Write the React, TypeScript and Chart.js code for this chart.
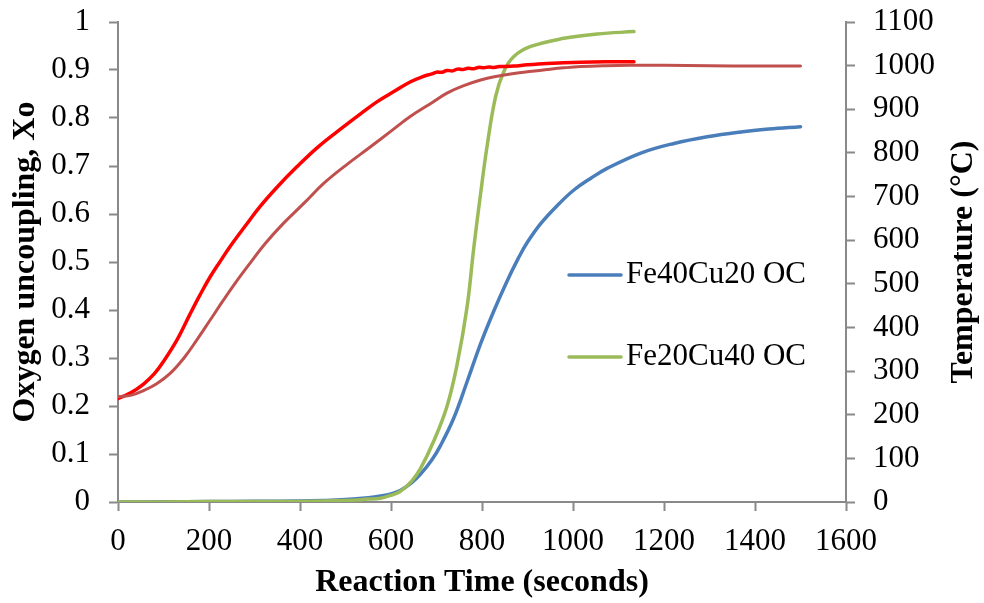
import React, { useEffect, useRef } from 'react';
import { Chart, registerables } from 'chart.js';

Chart.register(...registerables);

const FONT = '"Liberation Serif", "Times New Roman", Times, serif';

// X axis (Reaction Time, seconds)
const X_MIN = 0;
const X_MAX = 1600;
const X_STEP = 200;
// Left axis (Oxygen uncoupling, Xo)
const Y1_MIN = 0;
const Y1_MAX = 1;
const Y1_STEP = 0.1;
// Right axis (Temperature, °C)
const Y2_MIN = 0;
const Y2_MAX = 1100;
const Y2_STEP = 100;

const X_TITLE = 'Reaction Time (seconds)';
const Y1_TITLE = 'Oxygen uncoupling, Xo';
const Y2_TITLE = 'Temperature (°C)';

const LABEL_FE40 = 'Fe40Cu20 OC';
const LABEL_FE20 = 'Fe20Cu40 OC';

// Fe40Cu20 OC – oxygen uncoupling (blue)
const fe40Time = [0, 100, 200, 300, 400, 450, 500, 550, 577, 600, 620, 645, 665, 690, 709, 738, 767, 797, 826, 855, 880, 899, 929, 970, 1002, 1040, 1075, 1149, 1222, 1295, 1369, 1430, 1500];
const fe40Xo = [0, 0.0005, 0.001, 0.0015, 0.002, 0.003, 0.005, 0.009, 0.0125, 0.017, 0.024, 0.04, 0.058, 0.088, 0.118, 0.175, 0.25, 0.33, 0.398, 0.46, 0.508, 0.54, 0.58, 0.622, 0.65, 0.675, 0.695, 0.727, 0.747, 0.761, 0.771, 0.777, 0.782];

// Fe20Cu40 OC – oxygen uncoupling (green)
const fe20Time = [0, 100, 200, 300, 400, 500, 550, 577, 600, 620, 645, 665, 694, 723, 745, 767, 782, 797, 811, 830, 848, 870, 907, 980, 1053, 1134];
const fe20Xo = [0, 0, 0.001, 0.001, 0.001, 0.003, 0.006, 0.008, 0.014, 0.022, 0.043, 0.07, 0.127, 0.199, 0.285, 0.405, 0.53, 0.643, 0.74, 0.845, 0.897, 0.928, 0.949, 0.966, 0.975, 0.98];

// Temperature run 1 (red)
const tempRedTime = [0, 20, 40, 56, 80, 100, 130, 158, 180, 202, 225, 246, 280, 312, 350, 393, 440, 496, 530, 569, 610, 643, 670, 690, 700, 712, 723, 735, 746, 758, 769, 781, 792, 804, 815, 826, 838, 850, 870, 900, 943, 1017, 1080, 1134];
const tempRed = [237, 246, 258, 270, 294, 322, 372, 430, 474, 515, 552, 585, 633, 677, 722, 768, 814, 860, 887, 917, 943, 963, 975, 981, 985, 985, 989, 988, 992, 991, 994, 993, 996, 995, 997, 996, 998, 998, 999, 1002, 1005, 1008, 1009, 1009];

// Temperature run 2 (dark red)
const tempDarkTime = [0, 30, 56, 85, 114, 145, 173, 200, 232, 260, 290, 325, 364, 410, 452, 500, 555, 600, 643, 690, 723, 760, 797, 830, 870, 910, 943, 980, 1017, 1070, 1127, 1200, 1300, 1400, 1500];
const tempDark = [241, 245, 255, 271, 294, 330, 371, 413, 463, 505, 547, 594, 639, 686, 730, 771, 814, 850, 884, 915, 937, 954, 967, 975, 982, 987, 991, 995, 998, 1000, 1001, 1001, 1000, 999, 999];

const BLUE = '#4A7EBB';
const GREEN = '#9BBB59';
const RED = '#FF0000';
const DARK_RED = '#C0504D';
const AXIS_GRAY = '#898989';

const pts = (xs: number[], ys: number[]) => xs.map((x, i) => ({ x, y: ys[i] }));

export default function App() {
  const canvasRef = useRef<HTMLCanvasElement | null>(null);

  useEffect(() => {
    const canvas = canvasRef.current;
    if (!canvas) return;

    const legendPlugin = {
      id: 'inlineLegend',
      afterDatasetsDraw(chart: any) {
        const ctx = chart.ctx;
        const items = [0, 1];
        ctx.save();
        items.forEach((dsIndex, i) => {
          const ds = chart.data.datasets[dsIndex];
          const y = 275 + i * 82;
          ctx.strokeStyle = ds.borderColor;
          ctx.lineWidth = 3.5;
          ctx.lineCap = 'round';
          ctx.beginPath();
          ctx.moveTo(569, y);
          ctx.lineTo(621, y);
          ctx.stroke();
          ctx.fillStyle = '#000';
          ctx.font = `31px ${FONT}`;
          ctx.textAlign = 'left';
          ctx.textBaseline = 'middle';
          ctx.fillText(ds.label, 626, y);
        });
        ctx.restore();
      },
      afterDraw(chart: any) {
        const { ctx, chartArea } = chart;
        ctx.save();
        ctx.translate(964, (chartArea.top + chartArea.bottom) / 2);
        ctx.rotate(-Math.PI / 2);
        ctx.font = `bold 32px ${FONT}`;
        ctx.fillStyle = '#000';
        ctx.textAlign = 'center';
        ctx.textBaseline = 'middle';
        ctx.fillText(Y2_TITLE, 0, 0);
        ctx.restore();
      },
    };

    const axisCommon = {
      grid: {
        display: true,
        drawOnChartArea: false,
        drawTicks: true,
        tickLength: 9,
        tickColor: AXIS_GRAY,
        tickWidth: 2,
      },
      border: { display: true, color: AXIS_GRAY, width: 2 },
    };

    const fitVertical = (w: number) => (scale: any) => {
      scale.width = w;
      scale.paddingTop = 0;
      scale.paddingBottom = 0;
    };

    const chart = new Chart(canvas, {
      type: 'line',
      data: {
        datasets: [
          {
            label: LABEL_FE40,
            data: pts(fe40Time, fe40Xo),
            borderColor: BLUE,
            borderWidth: 3.5,
            yAxisID: 'y',
            order: 3,
          },
          {
            label: LABEL_FE20,
            data: pts(fe20Time, fe20Xo),
            borderColor: GREEN,
            borderWidth: 3.5,
            yAxisID: 'y',
            order: 2,
          },
          {
            label: 'Temperature 1',
            data: pts(tempRedTime, tempRed),
            borderColor: RED,
            borderWidth: 3.5,
            yAxisID: 'y2',
            order: 1,
          },
          {
            label: 'Temperature 2',
            data: pts(tempDarkTime, tempDark),
            borderColor: DARK_RED,
            borderWidth: 3,
            yAxisID: 'y2',
            order: 0,
          },
        ],
      },
      options: {
        responsive: false,
        animation: false,
        events: [],
        layout: { padding: { top: 22, left: 0, right: 0, bottom: 0 } },
        elements: {
          point: { radius: 0 },
          line: { tension: 0.4, cubicInterpolationMode: 'default', fill: false, capBezierPoints: true, borderCapStyle: 'round', borderJoinStyle: 'round' },
        },
        plugins: {
          legend: { display: false },
          tooltip: { enabled: false },
          title: { display: false },
        },
        scales: {
          x: {
            type: 'linear',
            position: 'bottom',
            min: X_MIN,
            max: X_MAX,
            ...axisCommon,
            ticks: {
              stepSize: X_STEP,
              color: '#000',
              padding: 12,
              font: { family: FONT, size: 31 },
              maxRotation: 0,
              autoSkip: false,
              callback: (v: any) => String(v),
            },
            title: {
              display: true,
              text: X_TITLE,
              color: '#000',
              font: { family: FONT, size: 32, weight: 'bold' },
              padding: { top: 0, bottom: 1 },
            },
            afterFit: (scale: any) => {
              scale.height = 101;
              scale.paddingLeft = 0;
              scale.paddingRight = 0;
            },
          },
          y: {
            type: 'linear',
            position: 'left',
            min: Y1_MIN,
            max: Y1_MAX,
            ...axisCommon,
            ticks: {
              stepSize: Y1_STEP,
              color: '#000',
              padding: 19,
              font: { family: FONT, size: 31 },
              callback: (v: any) => String(Math.round(Number(v) * 10) / 10),
            },
            title: {
              display: true,
              text: Y1_TITLE,
              color: '#000',
              font: { family: FONT, size: 32, weight: 'bold' },
              padding: { top: 7, bottom: 0 },
            },
            afterFit: fitVertical(118),
          },
          y2: {
            type: 'linear',
            position: 'right',
            min: Y2_MIN,
            max: Y2_MAX,
            ...axisCommon,
            ticks: {
              stepSize: Y2_STEP,
              color: '#000',
              padding: 18,
              font: { family: FONT, size: 31 },
              callback: (v: any) => String(v),
            },
            afterFit: fitVertical(138),
          },
        },
      },
      plugins: [legendPlugin],
    } as any);

    return () => {
      chart.destroy();
    };
  }, []);

  return (
    <div style={{ position: 'absolute', left: 0, top: 0, width: 984, height: 603, background: '#fff' }}>
      <canvas ref={canvasRef} width={984} height={603} style={{ width: 984, height: 603, display: 'block' }} />
    </div>
  );
}
